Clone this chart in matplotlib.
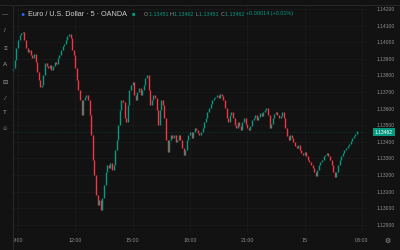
import numpy as np
import pandas as pd
import matplotlib
matplotlib.use("Agg")
import matplotlib.pyplot as plt
import matplotlib.dates as mdates
from matplotlib.offsetbox import TextArea, HPacker, AnchoredOffsetbox

# EUR/USD 5 min closes, 08:45 (14th) -> 02:45 (15th)
closes = [
    1.13845, 1.13893, 1.13965, 1.14013, 1.14043, 1.14055, 1.14061, 1.14013, 1.13965, 1.13941,
    1.13953, 1.13923, 1.13905, 1.13929, 1.13881, 1.13820, 1.13772, 1.13730, 1.13742, 1.13802,
    1.13875, 1.13857, 1.13845, 1.13863, 1.13833, 1.13857, 1.13881, 1.13869, 1.13905, 1.13923,
    1.13953, 1.13977, 1.13989, 1.14013, 1.14037, 1.14049, 1.14025, 1.13953, 1.13923, 1.13845,
    1.13772, 1.13712, 1.13652, 1.13561, 1.13652, 1.13670, 1.13682, 1.13652, 1.13561, 1.13441,
    1.13290, 1.13200, 1.13080, 1.13019, 1.13049, 1.12989, 1.13061, 1.13140, 1.13218, 1.13260,
    1.13242, 1.13272, 1.13230, 1.13260, 1.13351, 1.13411, 1.13501, 1.13592, 1.13652, 1.13640,
    1.13543, 1.13519, 1.13622, 1.13712, 1.13742, 1.13760, 1.13682, 1.13652, 1.13700, 1.13724,
    1.13682, 1.13712, 1.13742, 1.13784, 1.13802, 1.13712, 1.13622, 1.13652, 1.13682, 1.13664,
    1.13592, 1.13501, 1.13592, 1.13652, 1.13622, 1.13543, 1.13411, 1.13339, 1.13411, 1.13441,
    1.13423, 1.13441, 1.13399, 1.13411, 1.13441, 1.13411, 1.13363, 1.13320, 1.13351, 1.13411,
    1.13441, 1.13459, 1.13423, 1.13459, 1.13483, 1.13471, 1.13453, 1.13441, 1.13459, 1.13483,
    1.13519, 1.13543, 1.13580, 1.13604, 1.13628, 1.13652, 1.13664, 1.13670, 1.13682, 1.13664,
    1.13688, 1.13676, 1.13652, 1.13604, 1.13543, 1.13519, 1.13561, 1.13580, 1.13543, 1.13501,
    1.13483, 1.13519, 1.13495, 1.13471, 1.13519, 1.13543, 1.13507, 1.13483, 1.13471, 1.13495,
    1.13531, 1.13543, 1.13561, 1.13531, 1.13549, 1.13574, 1.13555, 1.13580, 1.13592, 1.13604,
    1.13561, 1.13483, 1.13507, 1.13543, 1.13568, 1.13580, 1.13561, 1.13543, 1.13555, 1.13580,
    1.13543, 1.13483, 1.13435, 1.13411, 1.13441, 1.13423, 1.13399, 1.13375, 1.13363, 1.13381,
    1.13351, 1.13333, 1.13320, 1.13339, 1.13314, 1.13290, 1.13278, 1.13260, 1.13242, 1.13218,
    1.13194, 1.13230, 1.13260, 1.13278, 1.13290, 1.13314, 1.13320, 1.13333, 1.13314, 1.13290,
    1.13260, 1.13218, 1.13188, 1.13218, 1.13260, 1.13290, 1.13314, 1.13333, 1.13351, 1.13363,
    1.13375, 1.13387, 1.13405, 1.13423, 1.13435, 1.13448, 1.13462,
]
first_open = 1.13830
last_price = "1.13462"

price_ticks = [1.129, 1.130, 1.131, 1.132, 1.133, 1.134, 1.135, 1.136,
               1.137, 1.138, 1.139, 1.140, 1.141, 1.142]
time_ticks = ["2025-07-14 09:00", "2025-07-14 12:00", "2025-07-14 15:00",
              "2025-07-14 18:00", "2025-07-14 21:00", "2025-07-15 00:00",
              "2025-07-15 03:00"]
time_labels = ["9:00", "12:00", "15:00", "18:00", "21:00", "15", "03:00"]

bg = "#121212"
grid_c = "#1c1c1c"
up_c = "#089981"
down_c = "#f23645"
txt_c = "#8f8f8f"

closes = np.array(closes)
opens = np.concatenate([[first_open], closes[:-1]])
times = pd.date_range("2025-07-14 08:45", periods=len(closes), freq="5min")
x = mdates.date2num(times)
step = 5 / (24 * 60)

plt.rcParams["font.family"] = ["Liberation Sans", "DejaVu Sans"]
fig = plt.figure(figsize=(4, 2.5), dpi=100, facecolor=bg)
ax = fig.add_axes([12 / 400, 18 / 250, 354 / 400, 227 / 250], facecolor=bg)

colors = np.where(closes >= opens, up_c, down_c)
lo = np.minimum(opens, closes)
hi = np.maximum(opens, closes)
ax.vlines(x, lo - 0.00002, hi + 0.00002, colors=colors, linewidth=1.0)

# last price line
ax.axhline(closes[-1], color=up_c, lw=0.4, ls=(0, (1, 1.5)), alpha=0.45)

ax.set_ylim(1.12857, 1.14224)
ax.set_xlim(x[0] - 0.77 * step, x[0] + 221.6 * step)
ax.yaxis.tick_right()
ax.set_yticks(price_ticks)
ax.set_yticklabels([f"{p:.5f}" for p in price_ticks])
ax.set_xticks(mdates.date2num(pd.to_datetime(time_ticks)))
ax.set_xticklabels(time_labels)
ax.tick_params(axis="y", length=0, pad=8, labelsize=3.6, colors=txt_c)
ax.tick_params(axis="x", length=0, pad=4, labelsize=3.8, colors=txt_c)
ax.grid(True, color=grid_c, lw=0.5)
for s in ax.spines.values():
    s.set_visible(False)

# frame lines
fig.add_artist(plt.Line2D([0, 1], [245 / 250, 245 / 250], color="#2a2a2a", lw=0.6))
fig.add_artist(plt.Line2D([12.5 / 400, 12.5 / 400], [0, 245 / 250], color="#2a2a2a", lw=0.6))

# header
fig.text(23 / 400, 236 / 250, "●", color="#2962ff", fontsize=5, ha="center", va="center")
fig.text(28 / 400, 236 / 250, "Euro / U.S. Dollar · 5 · OANDA", color="#d1d1d1",
         fontsize=5.2, va="center")
fig.text(133 / 400, 236 / 250, "■", color=up_c, fontsize=4, ha="center", va="center")
parts = [("O", txt_c), ("1.13451 ", up_c), ("H", txt_c), ("1.13462 ", up_c),
         ("L", txt_c), ("1.13451 ", up_c), ("C", txt_c), ("1.13462 ", up_c),
         ("+0.00014 (+0.01%)", up_c)]
boxes = [TextArea(t, textprops=dict(color=c, fontsize=3.9)) for t, c in parts]
pack = HPacker(children=boxes, align="baseline", pad=0, sep=0.3)
anch = AnchoredOffsetbox(loc="center left", child=pack, frameon=False, pad=0,
                         borderpad=0, bbox_to_anchor=(144 / 400, 236 / 250),
                         bbox_transform=fig.transFigure)
fig.add_artist(anch)

# price label box
fig.text(384 / 400, 1 - 132 / 250, last_price, color="white", fontsize=3.6,
         ha="center", va="center",
         bbox=dict(boxstyle="square,pad=0.35", fc=up_c, ec="none"))

# left toolbar glyphs
for yy, g in [(15, "—"), (31, "/"), (49, "≡"), (65, "A"), (82, "⊟"),
              (98, "∕"), (113, "T"), (128, "☺")]:
    fig.text(5 / 400, 1 - yy / 250, g, color="#9a9a9a", fontsize=4.5,
             ha="center", va="center")

fig.text(387 / 400, 1 - 241 / 250, "⚙", color="#9a9a9a", fontsize=5,
         ha="center", va="center")

fig.savefig("out.png", dpi=100, facecolor=bg)
